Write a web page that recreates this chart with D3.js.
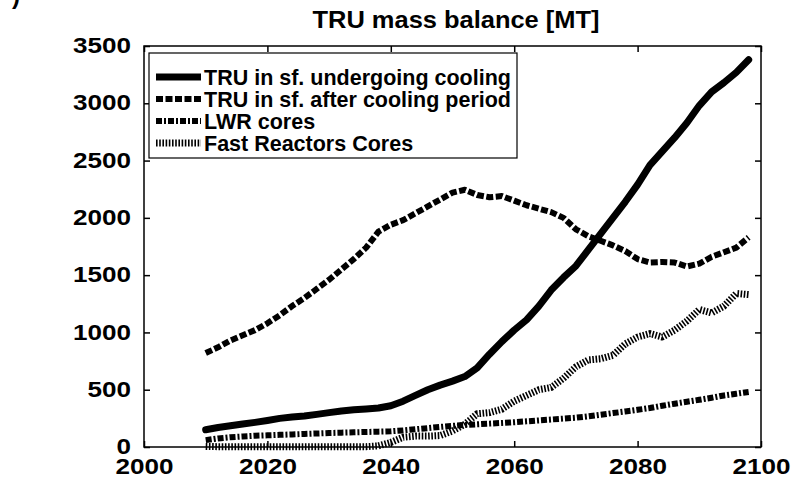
<!DOCTYPE html>
<html>
<head>
<meta charset="utf-8">
<script src="https://cdn.jsdelivr.net/npm/d3@7"></script>
<style>
  body { margin: 0; background: #fff; }
  text { font-family: "Liberation Sans", Arial, sans-serif; font-weight: bold; fill: #000; }
</style>
</head>
<body>
<div id="chart"></div>
<script>
const WIDTH = 794;
const HEIGHT = 481;
const LEFT = 144, RIGHT = 761, TOP = 46, BOTTOM = 447;

const years = [2010, 2012, 2014, 2016, 2018, 2020, 2022, 2024, 2026, 2028,
  2030, 2032, 2034, 2036, 2038, 2040, 2042, 2044, 2046, 2048,
  2050, 2052, 2054, 2056, 2058, 2060, 2062, 2064, 2066, 2068,
  2070, 2072, 2074, 2076, 2078, 2080, 2082, 2084, 2086, 2088,
  2090, 2092, 2094, 2096, 2098];

const cooling = [150, 170, 185, 200, 215, 232, 250, 262, 270, 285,
  300, 315, 325, 332, 340, 360, 400, 450, 500, 540,
  575, 615, 690, 810, 920, 1020, 1110, 1230, 1370, 1480,
  1580, 1720, 1860, 2000, 2140, 2290, 2460, 2580, 2700, 2830,
  2980, 3100, 3180, 3270, 3380];

const afterCooling = [820, 870, 930, 975, 1020, 1080, 1150, 1230, 1300, 1380,
  1460, 1550, 1640, 1740, 1880, 1940, 1980, 2040, 2100, 2160,
  2220, 2245, 2200, 2180, 2190, 2150, 2110, 2080, 2050, 2000,
  1900, 1840, 1800, 1760, 1710, 1640, 1610, 1615, 1610, 1575,
  1600, 1660, 1700, 1740, 1830];

const lwrCores = [60, 75, 85, 92, 98, 102, 106, 110, 114, 118,
  122, 125, 128, 131, 134, 137, 145, 155, 165, 175,
  185, 192, 198, 204, 210, 216, 224, 232, 240, 248,
  256, 268, 282, 296, 310, 325, 340, 360, 378, 395,
  412, 430, 450, 465, 480];

const fastCores = [5, 3, 3, 3, 3, 3, 3, 3, 3, 3,
  3, 3, 3, 3, 10, 40, 85, 95, 95, 100,
  140, 200, 290, 300, 330, 400, 450, 500, 520, 600,
  700, 760, 770, 800, 900, 960, 990, 960, 1020, 1100,
  1200, 1170, 1230, 1340, 1330];

const seriesNames = ["TRU in sf. undergoing cooling", "TRU in sf. after cooling period",
  "LWR cores", "Fast Reactors Cores"];

const xTicks = [2000, 2020, 2040, 2060, 2080, 2100];
const yTicks = [0, 500, 1000, 1500, 2000, 2500, 3000, 3500];

const STYLES = [
  { width: 7, dash: null, cap: "round" },
  { width: 6, dash: "7,2.5", cap: "butt" },
  { width: 6, dash: "6,2,2,2", cap: "butt" },
  { width: 7, dash: "1.6,1.6", cap: "butt" }
];

const svg = d3.select("#chart").append("svg")
  .attr("width", WIDTH).attr("height", HEIGHT);

const x = d3.scaleLinear().domain([2000, 2100]).range([LEFT, RIGHT]);
const y = d3.scaleLinear().domain([0, 3500]).range([BOTTOM, TOP]);

// cut-off panel label from the scan
svg.append("text").attr("x", 12).attr("y", 4).style("font-size", "24px").text(")");

svg.append("text")
  .attr("x", 456).attr("y", 28)
  .attr("text-anchor", "middle")
  .attr("textLength", 287).attr("lengthAdjust", "spacingAndGlyphs")
  .style("font-size", "24px")
  .text("TRU mass balance [MT]");

// data lines
const allSeries = [cooling, afterCooling, lwrCores, fastCores];
const line = d3.line().x((d, i) => x(years[i])).y(d => y(d));

svg.append("g").selectAll("path")
  .data(allSeries)
  .enter()
  .append("path")
  .attr("d", d => line(d))
  .attr("fill", "none")
  .attr("stroke", "#000")
  .attr("stroke-width", (d, i) => STYLES[i].width)
  .attr("stroke-dasharray", (d, i) => STYLES[i].dash)
  .attr("stroke-linecap", (d, i) => STYLES[i].cap)
  .attr("stroke-linejoin", "round");

// axes, MATLAB style box with inward ticks
const fmt = d3.format("d");
const bottomAxis = d3.axisBottom(x).tickValues(xTicks).tickSize(-6).tickPadding(11).tickFormat(fmt);
const topAxis = d3.axisTop(x).tickValues(xTicks).tickSize(-6).tickFormat("");
const leftAxis = d3.axisLeft(y).tickValues(yTicks).tickSize(-6).tickPadding(13).tickFormat(fmt);
const rightAxis = d3.axisRight(y).tickValues(yTicks).tickSize(-6).tickFormat("");

function styleAxis(g) {
  g.select(".domain").remove();
  g.selectAll("line").attr("stroke", "#000").attr("stroke-width", 1.5);
  g.selectAll("text")
    .style("font-size", "22px")
    .style("font-family", "'Liberation Sans', Arial, sans-serif")
    .style("font-weight", "bold")
    .attr("fill", "#000")
    .attr("textLength", d => fmt(d).length * 14.5)
    .attr("lengthAdjust", "spacingAndGlyphs");
}

svg.append("g").attr("transform", `translate(0,${BOTTOM})`).call(bottomAxis).call(styleAxis);
svg.append("g").attr("transform", `translate(0,${TOP})`).call(topAxis).call(styleAxis);
svg.append("g").attr("transform", `translate(${LEFT},0)`).call(leftAxis).call(styleAxis)
  .selectAll("text").attr("dy", "0.3em");
svg.append("g").attr("transform", `translate(${RIGHT},0)`).call(rightAxis).call(styleAxis);

svg.append("rect")
  .attr("x", LEFT).attr("y", TOP)
  .attr("width", RIGHT - LEFT).attr("height", BOTTOM - TOP)
  .attr("fill", "none").attr("stroke", "#000").attr("stroke-width", 1.5);

// legend
const legend = svg.append("g");
legend.append("rect")
  .attr("x", 149).attr("y", 53).attr("width", 368).attr("height", 105)
  .attr("fill", "#fff").attr("stroke", "#000").attr("stroke-width", 1.2);

const rows = legend.selectAll("g.row")
  .data(seriesNames)
  .enter()
  .append("g")
  .attr("transform", (d, i) => `translate(0,${77 + i * 22})`);

rows.append("line")
  .attr("x1", 156).attr("x2", 201)
  .attr("y1", 0).attr("y2", 0)
  .attr("stroke", "#000")
  .attr("stroke-width", (d, i) => STYLES[i].width)
  .attr("stroke-dasharray", (d, i) => STYLES[i].dash)
  .attr("stroke-linecap", "butt");

rows.append("text")
  .attr("x", 204).attr("y", 0).attr("dy", "0.36em")
  .style("font-size", "21.5px")
  .text(d => d);
</script>
</body>
</html>
